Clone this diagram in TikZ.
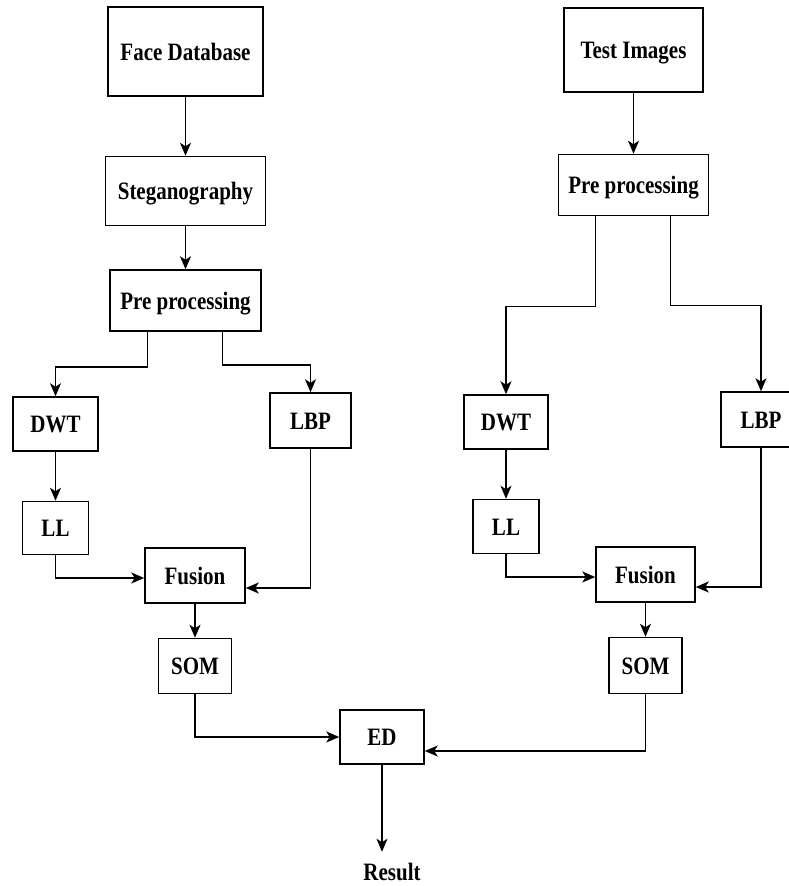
\documentclass[tikz,border=0pt]{standalone}
\usepackage{fontspec}
\setmainfont{Liberation Serif}[FakeStretch=0.84]
\usetikzlibrary{arrows.meta, positioning}
\tikzset{
  every picture/.style={line width=1.5pt, x=1pt, y=1pt},
  box/.style 2 args={draw, rectangle, inner sep=0pt, minimum width=#1, minimum height=#2,
    font=\bfseries\fontsize{25}{30}\selectfont, text height=17pt, text depth=0pt},
  arrow/.style={-{Stealth[length=13pt, width=11pt, inset=3.5pt]}, line width=1.5pt},
  outlabel/.style={font=\bfseries\fontsize{25}{30}\selectfont, text height=17pt, text depth=0pt, inner sep=11pt},
}

\begin{document}
\begin{tikzpicture}
  \useasboundingbox (0,0) rectangle (789,-886);
  \node[box={155pt}{89pt}] (fdb) at (185.5,-51.5) {Face Database};
  \node[box={160pt}{69pt}, below=59pt of fdb] (steg) {Steganography};
  \node[box={151pt}{61pt}, below=43pt of steg] (prel) {Pre processing};
  \node[box={85pt}{54pt}] (dwtl) at (55.5,-424) {DWT};
  \node[box={66pt}{53pt}, below=49pt of dwtl] (lll) {LL};
  \node[box={81pt}{55pt}] (lbpl) at (310.5,-420.5) {LBP};
  \node[box={100pt}{55pt}] (fusl) at (195,-575.5) {Fusion};
  \node[box={73pt}{55pt}, below=34pt of fusl] (soml) {SOM};
  \node[box={84pt}{54pt}] (ed) at (382,-737) {ED};
  \node[outlabel, below=87pt of ed, xshift=10pt] (result) {Result};
  \node[box={139pt}{84pt}] (test) at (633.5,-50) {Test Images};
  \node[box={150pt}{61pt}, below=61pt of test] (prer) {Pre processing};
  \node[box={84pt}{54pt}] (dwtr) at (506,-422) {DWT};
  \node[box={66pt}{54pt}, below=49pt of dwtr] (llr) {LL};
  \node[box={80pt}{55pt}] (lbpr) at (761,-419.5) {LBP};
  \node[box={99pt}{55pt}] (fusr) at (645.5,-574.5) {Fusion};
  \node[box={73pt}{56pt}, below=34pt of fusr] (somr) {SOM};

  \draw[arrow] (fdb) -- (steg);
  \draw[arrow] (steg) -- (prel);
  \draw[arrow] ([xshift=-38pt]prel.south) -- ++(0,-35) -| (dwtl);
  \draw[arrow] ([xshift=37pt]prel.south) -- ++(0,-33) -| (lbpl);
  \draw[arrow] (dwtl) -- (lll);
  \draw[arrow] (lll) |- ([yshift=-2.5pt]fusl.west);
  \draw[arrow] (lbpl) |- ([yshift=-12.5pt]fusl.east);
  \draw[arrow] (fusl) -- (soml);
  \draw[arrow] (soml) |- (ed);
  \draw[arrow] (somr) |- ([yshift=-14pt]ed.east);
  \draw[arrow] (ed) -- (ed.south |- result.north);
  \draw[arrow] (test) -- (prer);
  \draw[arrow] ([xshift=-38pt]prer.south) -- ++(0,-90) -| (dwtr);
  \draw[arrow] ([xshift=37pt]prer.south) -- ++(0,-89) -| (lbpr);
  \draw[arrow] (dwtr) -- (llr);
  \draw[arrow] (llr) |- ([yshift=-2.5pt]fusr.west);
  \draw[arrow] (lbpr) |- ([yshift=-12.5pt]fusr.east);
  \draw[arrow] (fusr) -- (somr);
\end{tikzpicture}
\end{document}
